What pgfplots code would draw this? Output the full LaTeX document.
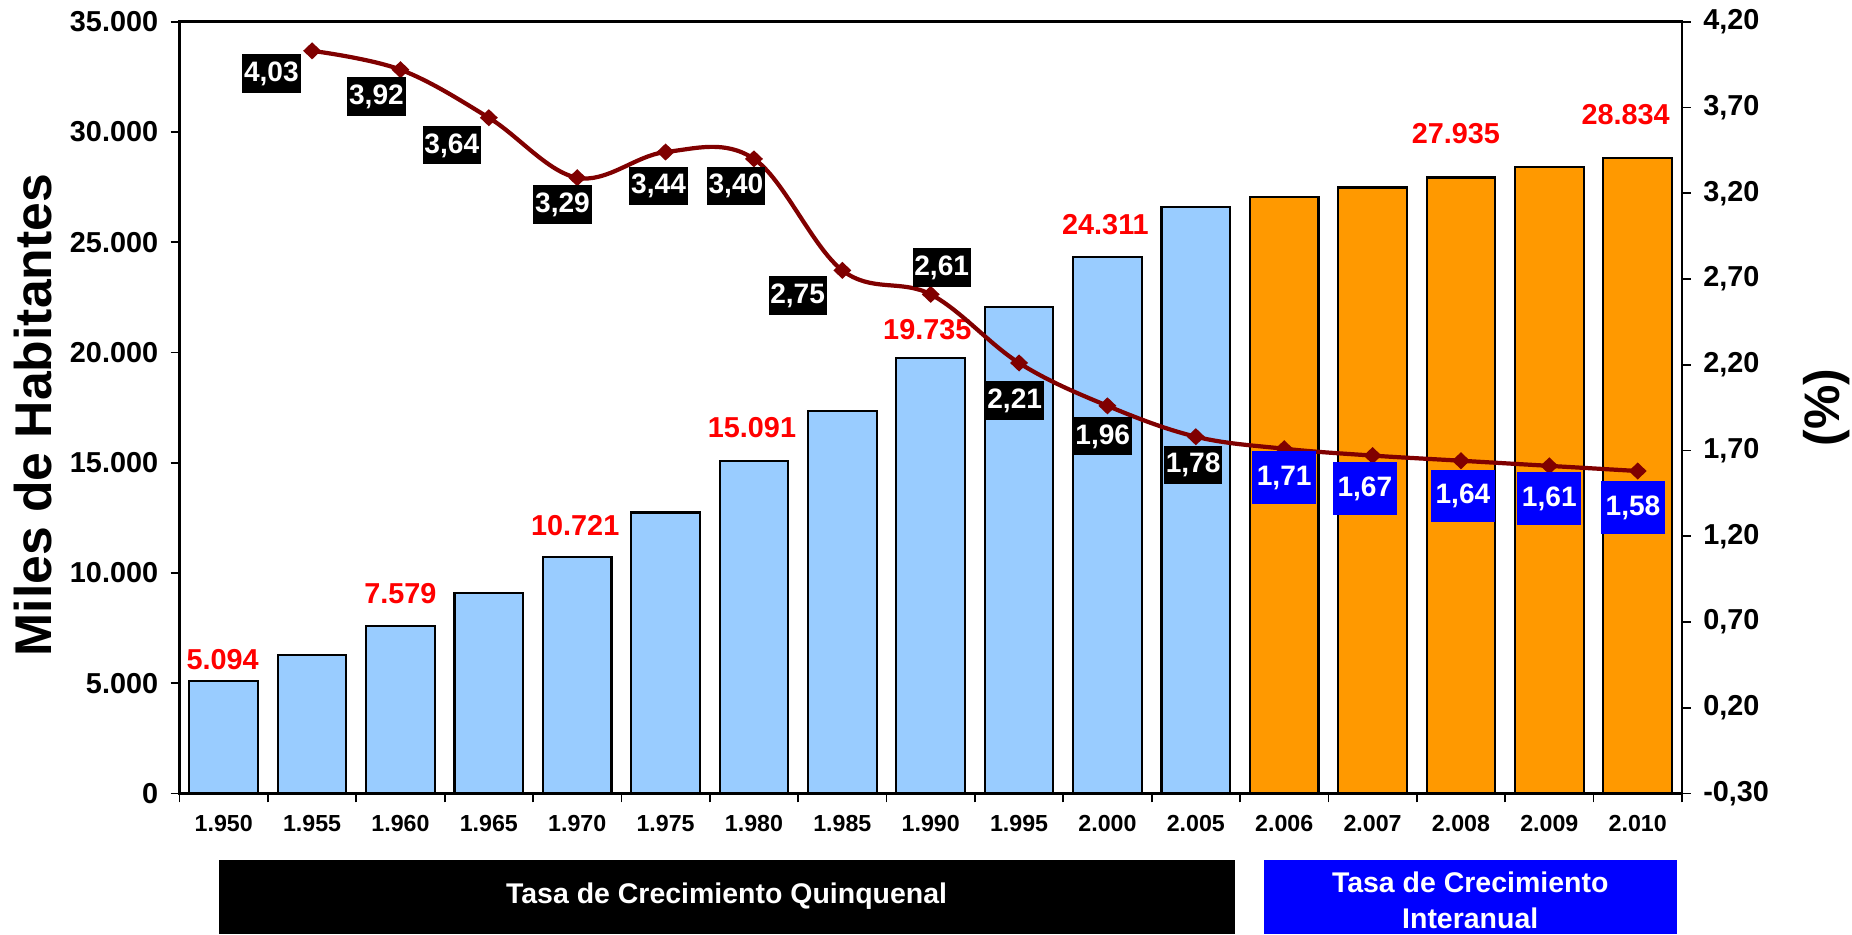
\documentclass[border=0pt]{standalone}
\usepackage{pgfplots}
\pgfplotsset{compat=1.18}
\usepackage{pgfplotstable}
\usepackage{fontspec}
\setmainfont{Liberation Sans}

\definecolor{barblue}{HTML}{99CCFF}
\definecolor{barorange}{HTML}{FF9900}
\definecolor{linered}{HTML}{800000}
\definecolor{boxblue}{HTML}{0000FF}
\definecolor{labred}{HTML}{FF0000}

% poblacion (miles de habitantes)
\pgfplotstableread{
x pop
0 5094
1 6272
2 7579
3 9097
4 10721
5 12740
6 15091
7 17340
8 19735
9 22070
10 24311
11 26580
}\popquin
\pgfplotstableread{
x pop
12 27060
13 27480
14 27935
15 28390
16 28834
}\popanual
% barras con etiqueta; dx/dy = desplazamiento de la etiqueta en 0.01cm
\pgfplotstableread{
x pop dx dy
0 5094 -1 11.7
2 7579 0 23
4 10721 -2 22
6 15091 -2 23.4
8 19735 -3.4 19
10 24311 -2 22.4
14 27935 -5 33.7
16 28834 -12 32.7
}\poplab

% tasa de crecimiento (%)
\pgfplotstableread{
x rate dx dy
1 4.03 -40.7 -22.6
2 3.92 -24 -26.5
3 3.64 -37 -27.4
4 3.29 -14.7 -27
5 3.44 -7 -34
6 3.40 -18 -27
7 2.75 -44.7 -25
8 2.61 11 26.7
9 2.21 -4.4 -37.7
10 1.96 -4.7 -30.3
11 1.78 -2.7 -28.3
12 1.71 0 -28.7
13 1.67 -7.7 -33
14 1.64 2 -35.3
15 1.61 0 -32.3
16 1.58 -4.7 -36.3
}\tasa

\begin{document}
\begin{tikzpicture}
\pgfplotsset{
  base/.style={
    width=15.02cm, height=7.716cm, scale only axis,
    xmin=-0.5, xmax=16.5, clip=false,
    /pgf/number format/assume math mode=true,
    tick align=outside, major tick length=0.09cm,
    axis line style={line width=0.75pt},
    tick style={black, line width=0.5pt},
  },
  barra/.style={ybar, bar width=0.777, bar shift=0pt, draw=black, line width=0.6pt},
  caja/.style={draw=none, mark=none, point meta=explicit,
    nodes near coords={\pgfmathprintnumber[fixed,fixed zerofill,precision=2,use comma]{\pgfplotspointmeta}},
    every node near coord/.append style={anchor=center, fill=#1, text=white,
      font=\bfseries\fontsize{8}{10}\selectfont, text height=6pt, text depth=1.5pt}},
}
\begin{axis}[base, name=main,
  ymin=0, ymax=35000, ytick distance=5000, scaled y ticks=false,
  ytick pos=left, xtick pos=bottom,
  yticklabel style={font=\bfseries\fontsize{8.2}{10}\selectfont,
    /pgf/number format/.cd, fixed, precision=0, 1000 sep={.}},
  xtick={-0.5,0.5,...,16.5},
  xticklabels={1.950,1.955,1.960,1.965,1.970,1.975,1.980,1.985,1.990,1.995,2.000,2.005,2.006,2.007,2.008,2.009,2.010,{}},
  xticklabel style={font=\bfseries\fontsize{6.6}{8}\selectfont, xshift=0.4419cm},
  ylabel={Miles de Habitantes},
  every axis y label/.style={at={([xshift=-1.28cm,yshift=-0.075cm]axis description cs:0,0.5)},
    anchor=base, rotate=90, font=\bfseries\fontsize{14.7}{16}\selectfont},
]
\addplot[barra, fill=barblue] table[x=x, y=pop] {\popquin};
\addplot[barra, fill=barorange] table[x=x, y=pop] {\popanual};
% etiquetas rojas sobre las barras
\addplot[draw=none, mark=none, point meta=explicit,
  nodes near coords={\pgfmathprintnumber[fixed,precision=0,1000 sep={.}]{\pgfplotspointmeta}},
  every node near coord/.append style={anchor=base, inner sep=0pt, text=labred,
    font=\bfseries\fontsize{8.2}{10}\selectfont},
] table[x expr=\thisrow{x}+\thisrow{dx}/88.35, y expr=\thisrow{pop}+\thisrow{dy}*45.36, meta=pop] {\poplab};

\fill[black] ([yshift=-0.667cm]axis cs:-0.053,0) rectangle ([yshift=-1.41cm]axis cs:11.44,0);
\node[text=white, font=\bfseries\fontsize{8.1}{10}\selectfont]
  at ([yshift=-1.03cm]axis cs:5.69,0) {Tasa de Crecimiento Quinquenal};
\fill[boxblue] ([yshift=-0.667cm]axis cs:11.77,0) rectangle ([yshift=-1.41cm]axis cs:16.44,0);
\node[text=white, align=center, font=\bfseries\fontsize{8.1}{10.4}\selectfont]
  at ([yshift=-1.07cm]axis cs:14.105,0) {Tasa de Crecimiento\\Interanual};
\end{axis}

\begin{axis}[base,
  ymin=-0.3, ymax=4.2,
  ytick={-0.3,0.2,0.7,1.2,1.7,2.2,2.7,3.2,3.7,4.2},
  axis y line*=right, axis x line=none,
  yticklabel style={font=\bfseries\fontsize{8.2}{10}\selectfont,
    /pgf/number format/.cd, fixed, fixed zerofill, precision=2, use comma},
  ylabel={(\%)},
  every axis y label/.style={at={([xshift=1.576cm]axis description cs:1,0.5)},
    anchor=base, rotate=90, font=\bfseries\fontsize{14.2}{16}\selectfont},
]
\addplot[linered, line width=1.2pt, smooth, tension=0.6,
  mark=diamond*, mark size=1.6pt, mark options={solid, fill=linered, xscale=1.4}]
  table[x=x, y=rate] {\tasa};
% etiquetas de la tasa: quinquenal (negro) e interanual (azul)
\addplot[caja=black, every node near coord/.append style={inner xsep=0.5pt, inner ysep=1.75pt},
  restrict expr to domain={\thisrow{x}}{0:11.5}]
  table[x expr=\thisrow{x}+\thisrow{dx}/88.35, y expr=\thisrow{rate}+\thisrow{dy}*0.005832, meta=rate] {\tasa};
\addplot[caja=boxblue, every node near coord/.append style={inner xsep=1.3pt, inner ysep=3.75pt},
  restrict expr to domain={\thisrow{x}}{11.5:17}]
  table[x expr=\thisrow{x}+\thisrow{dx}/88.35, y expr=\thisrow{rate}+\thisrow{dy}*0.005832, meta=rate] {\tasa};
\end{axis}

\pgfresetboundingbox
\path[use as bounding box] ([xshift=-1.795cm,yshift=-1.407cm]main.south west)
  rectangle ([xshift=1.701cm,yshift=0.217cm]main.north east);
\end{tikzpicture}
\end{document}
